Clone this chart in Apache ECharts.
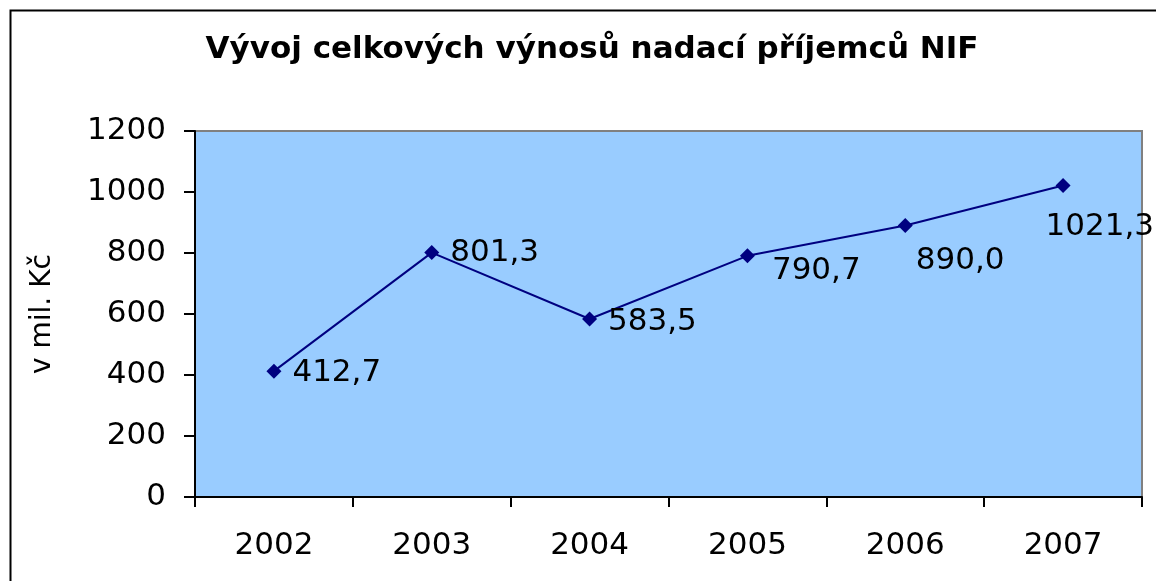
<!DOCTYPE html>
<html>
<head>
<meta charset="utf-8">
<script src="https://cdn.jsdelivr.net/npm/echarts@6/dist/echarts.min.js"></script>
<style>
    html, body {margin: 0; padding: 0; background: #ffffff;}
    #main {width: 1156px; height: 581px;}
</style>
</head>
<body>
<div id="main"></div>
<script>
const years = ['2002', '2003', '2004', '2005', '2006', '2007'];
const revenue = [412.7, 801.3, 583.5, 790.7, 890.0, 1021.3];
const yTicks = [0, 200, 400, 600, 800, 1000, 1200];

// posun popisků od bodu (jako v originále)
const labelOffsets = [[0, 2], [0, 0], [0, 3], [6, 15], [-8, 35], [-36, 41]];

const chart = echarts.init(document.getElementById('main'));

const option = {
    backgroundColor: '#ffffff',
    textStyle: {fontFamily: 'DejaVu Sans'},
    title: {
        text: 'Vývoj celkových výnosů nadací příjemců NIF',
        left: 587,
        top: 29,
        textAlign: 'center',
        textStyle: {fontSize: 31, fontWeight: 'bold', color: '#000000', fontFamily: 'DejaVu Sans'}
    },
    graphic: [{
        type: 'rect',
        shape: {x: 10.5, y: 10.5, width: 1160, height: 600},
        style: {fill: 'none', stroke: '#000000', lineWidth: 2},
        z: 100
    }],
    grid: {
        left: 195,
        right: 14,
        top: 131,
        bottom: 84,
        show: true,
        backgroundColor: '#99ccff',
        borderColor: '#808080',
        borderWidth: 2
    },
    xAxis: {
        type: 'category',
        data: years,
        boundaryGap: true,
        axisLine: {lineStyle: {color: '#000000', width: 2}},
        axisTick: {show: true, length: 10, lineStyle: {color: '#000000', width: 2}},
        axisLabel: {color: '#000000', fontSize: 31, margin: 33}
    },
    yAxis: {
        type: 'value',
        min: 0,
        max: 1200,
        interval: 200,
        name: 'v mil. Kč',
        nameLocation: 'middle',
        nameGap: 138,
        nameTextStyle: {color: '#000000', fontSize: 28},
        axisLine: {show: true, lineStyle: {color: '#000000', width: 2}},
        axisTick: {show: true, length: 11, lineStyle: {color: '#000000', width: 2}},
        splitLine: {show: false},
        axisLabel: {
            color: '#000000',
            fontSize: 31,
            margin: 29,
            formatter: function (value) {
                return yTicks.indexOf(value) >= 0 ? String(value) : '';
            }
        }
    },
    series: [{
        type: 'line',
        data: revenue.map(function (v, i) {
            return {
                value: v,
                label: {offset: labelOffsets[i]}
            };
        }),
        symbol: 'diamond',
        symbolSize: 15,
        itemStyle: {color: '#000080'},
        lineStyle: {color: '#000080', width: 2},
        label: {
            show: true,
            position: 'right',
            distance: 11,
            color: '#000000',
            fontSize: 31,
            formatter: function (p) {
                return p.value.toFixed(1).replace('.', ',');
            }
        },
        animation: false
    }]
};

chart.setOption(option);
</script>
</body>
</html>
